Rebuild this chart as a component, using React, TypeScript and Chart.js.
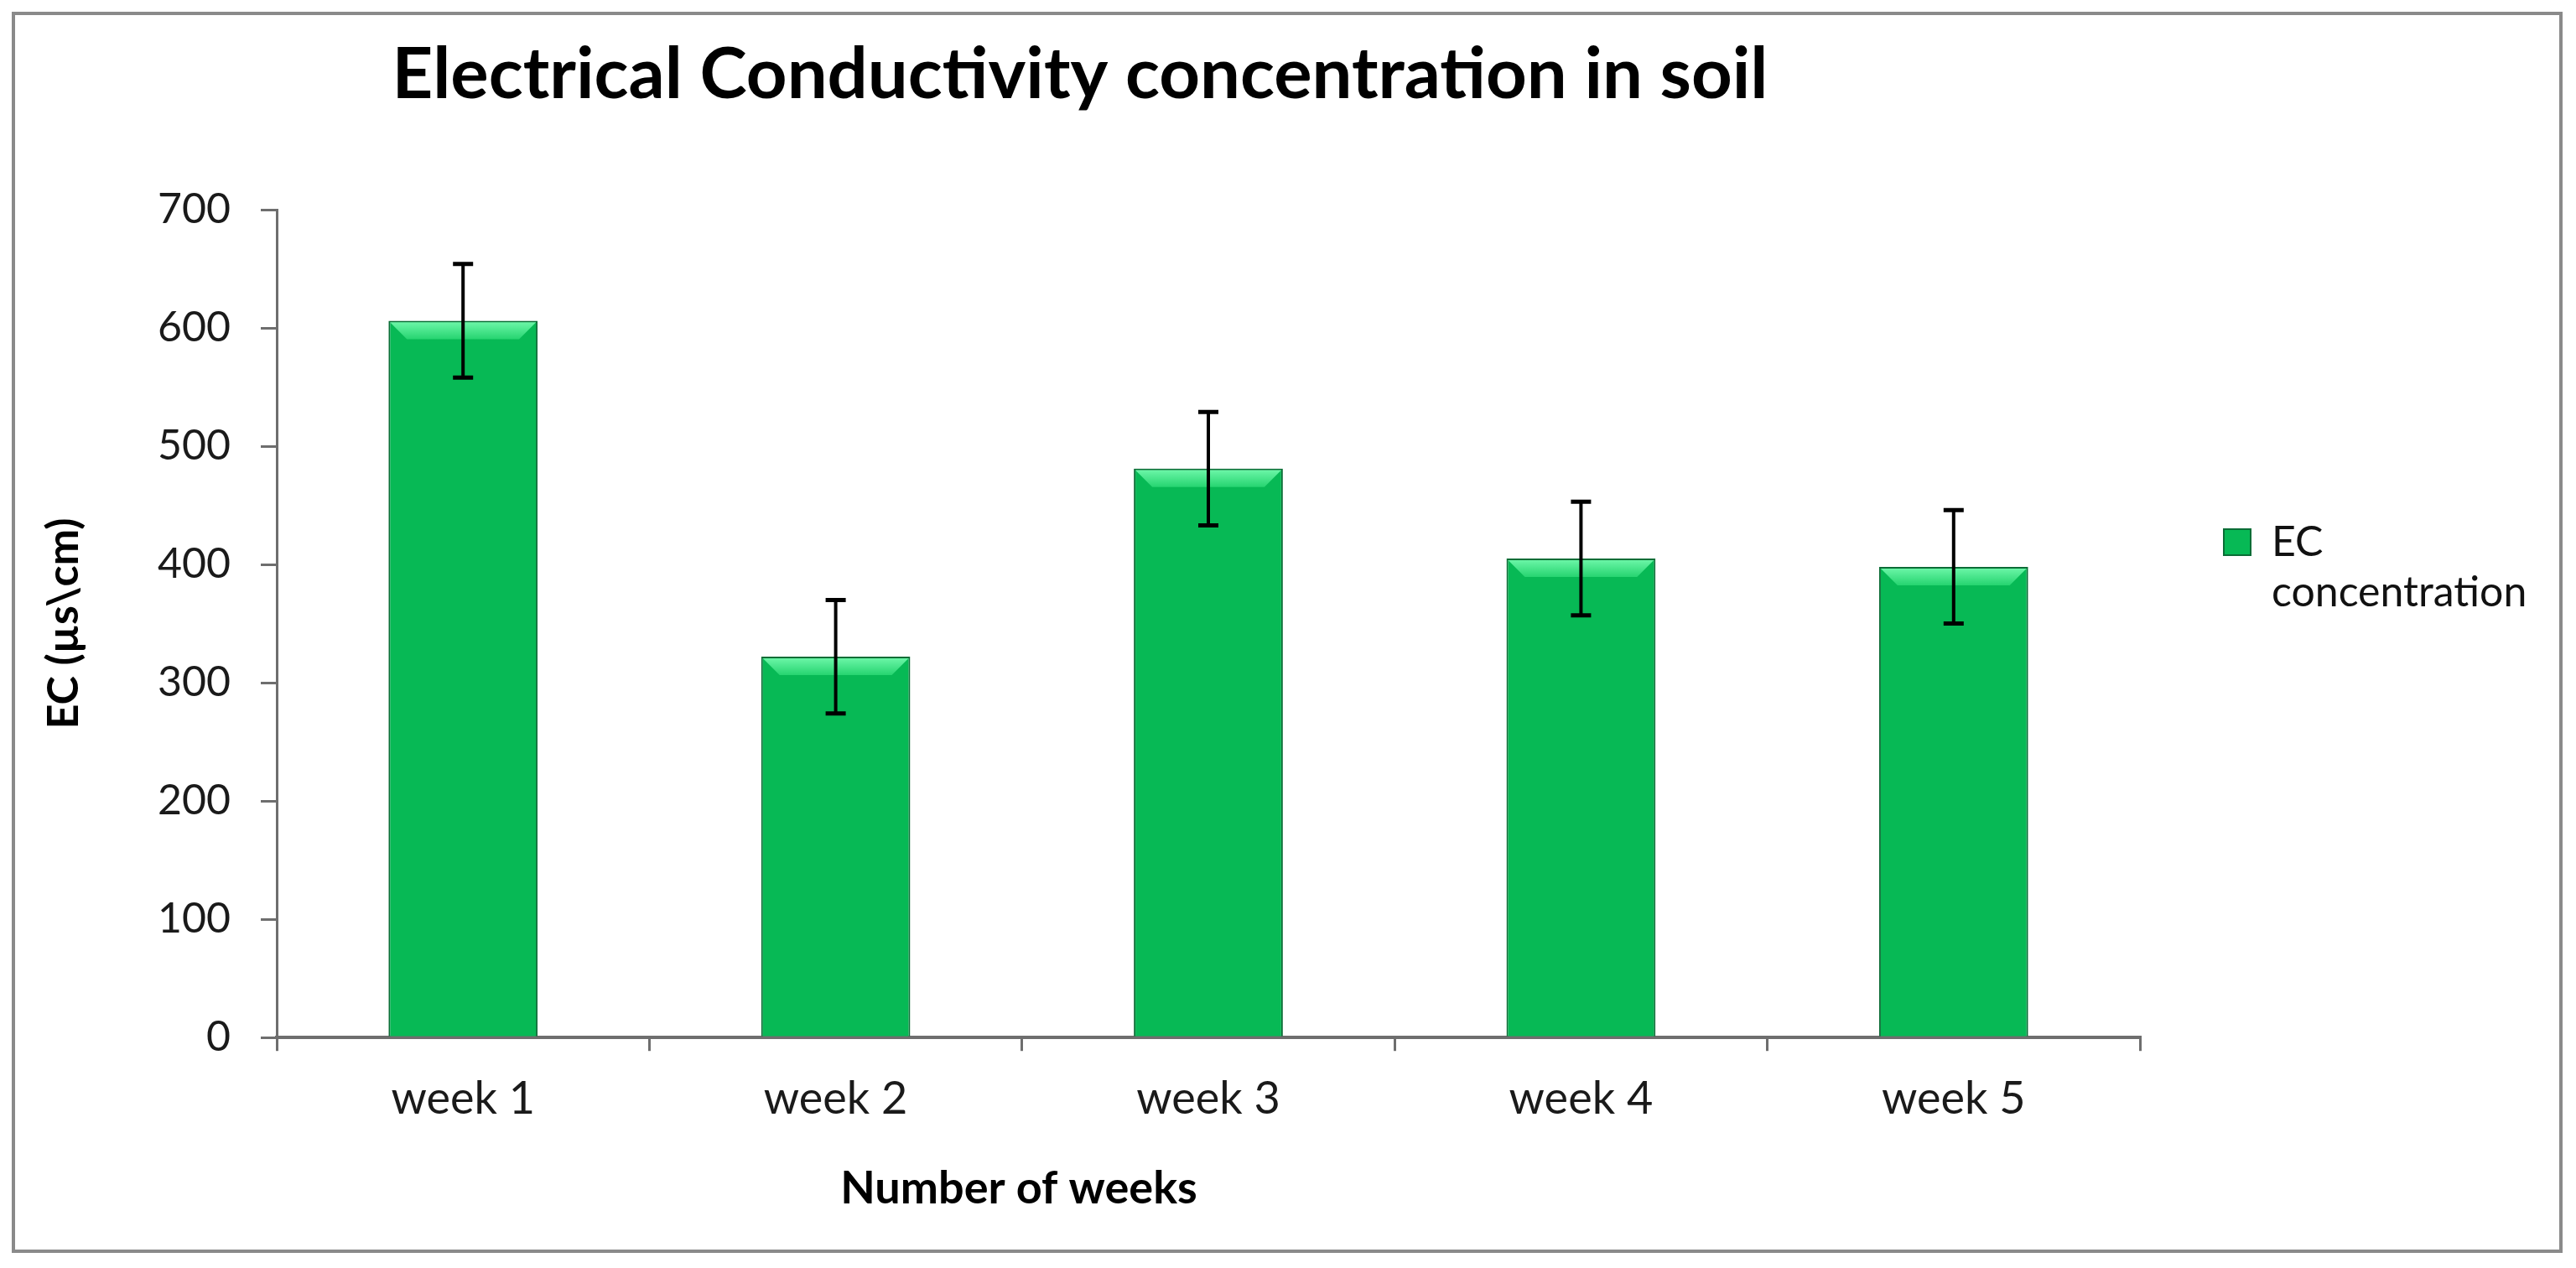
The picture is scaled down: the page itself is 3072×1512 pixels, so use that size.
import React, { useEffect, useRef } from "react";
import { Chart, registerables } from "chart.js";

Chart.register(...registerables);

const categories = ["week 1", "week 2", "week 3", "week 4", "week 5"];
const ecValues = [606, 322, 481, 405, 398];
const ecErrors = [48, 48, 48, 48, 48];
const seriesLabel = "EC concentration";
const legendLines = ["EC", "concentration"];
const chartTitle = "Electrical Conductivity concentration in soil";
const xTitle = "Number of weeks";
const yTitle = "EC (µs\\cm)";
const yMin = 0;
const yMax = 700;
const yStep = 100;

const FONT = "Lato, 'Open Sans', sans-serif";
const AXIS_GREY = "#6e6e6e";
const LEGEND_FONT_SIZE = 50;
const LEGEND_BOX = 32;
const LEGEND_PAD = 100;
const PLOT_RIGHT = 2552;

const bevelPlugin = {
  id: "bevel",
  afterDatasetsDraw(chart: any) {
    const ctx = chart.ctx;
    const meta = chart.getDatasetMeta(0);
    meta.data.forEach((bar: any) => {
      const { x, y, width } = bar.getProps(["x", "y", "width"], true);
      const l = x - width / 2 + 2;
      const r = x + width / 2 - 2;
      const h = 20;
      const t = y + 2;
      ctx.save();
      const g = ctx.createLinearGradient(0, t, 0, t + h);
      g.addColorStop(0, "#6af5a6");
      g.addColorStop(1, "#26d470");
      ctx.fillStyle = g;
      ctx.beginPath();
      ctx.moveTo(l, t);
      ctx.lineTo(r, t);
      ctx.lineTo(r - h, t + h);
      ctx.lineTo(l + h, t + h);
      ctx.closePath();
      ctx.fill();
      ctx.restore();
    });
  },
};

const errorBarPlugin = {
  id: "errorBars",
  afterDatasetsDraw(chart: any) {
    const ctx = chart.ctx;
    const meta = chart.getDatasetMeta(0);
    const yScale = chart.scales.y;
    meta.data.forEach((bar: any, i: number) => {
      const x = bar.x;
      const top = yScale.getPixelForValue(ecValues[i] + ecErrors[i]);
      const bot = yScale.getPixelForValue(ecValues[i] - ecErrors[i]);
      ctx.save();
      ctx.strokeStyle = "#000";
      ctx.lineWidth = 4;
      ctx.beginPath();
      ctx.moveTo(x, top);
      ctx.lineTo(x, bot);
      ctx.stroke();
      ctx.lineWidth = 5;
      ctx.beginPath();
      ctx.moveTo(x - 12, top);
      ctx.lineTo(x + 12, top);
      ctx.moveTo(x - 12, bot);
      ctx.lineTo(x + 12, bot);
      ctx.stroke();
      ctx.restore();
    });
  },
};

const textPlugin = {
  id: "freeTexts",
  afterDraw(chart: any) {
    const ctx = chart.ctx;
    ctx.save();
    ctx.fillStyle = "#000";
    ctx.textAlign = "center";
    ctx.textBaseline = "alphabetic";
    ctx.font = `bold 85px ${FONT}`;
    ctx.fillText(chartTitle, 1288, 117);
    ctx.font = `bold 54px ${FONT}`;
    ctx.fillText(xTitle, 1215, 1435);
    ctx.restore();
  },
};

export default function App() {
  const canvasRef = useRef<HTMLCanvasElement | null>(null);

  useEffect(() => {
    document.body.style.margin = "0";
    const canvas = canvasRef.current;
    if (!canvas) return;
    const mctx = canvas.getContext("2d")!;
    mctx.font = `normal ${LEGEND_FONT_SIZE}px ${FONT}`;
    const longest = legendLines.reduce((a, b) => (a.length > b.length ? a : b));
    const textW = mctx.measureText(longest).width;
    const legendW = LEGEND_PAD + LEGEND_BOX + LEGEND_FONT_SIZE / 2 + textW + 10;
    const padRight = Math.max(0, 3072 - PLOT_RIGHT - legendW);

    const chart = new Chart(canvas, {
      type: "bar",
      data: {
        labels: categories,
        datasets: [
          {
            label: seriesLabel,
            data: ecValues,
            backgroundColor: "#07b955",
            borderColor: "#0b6d36",
            borderWidth: 2,
            barPercentage: 0.4,
            categoryPercentage: 1.0,
          },
        ],
      },
      options: {
        responsive: false,
        animation: false,
        devicePixelRatio: 1,
        layout: { padding: { left: 30, right: padRight, top: 250, bottom: 144 } },
        plugins: {
          title: { display: false },
          tooltip: { enabled: false },
          legend: {
            display: true,
            position: "right",
            align: "start",
            fullSize: false,
            title: {
              display: true,
              text: " ",
              font: { size: 12, lineHeight: 1.2 },
              padding: { top: 0, bottom: 257 },
            },
            labels: {
              boxWidth: LEGEND_BOX,
              boxHeight: 31,
              padding: LEGEND_PAD,
              color: "#111",
              font: { family: FONT, size: LEGEND_FONT_SIZE, lineHeight: 1.2 },
              generateLabels(chart: any) {
                const items = Chart.defaults.plugins.legend.labels.generateLabels(chart);
                return items.map((it: any) => ({ ...it, text: legendLines }));
              },
            },
          },
        },
        scales: {
          x: {
            grid: {
              display: true,
              drawOnChartArea: false,
              drawTicks: true,
              tickLength: 16,
              color: AXIS_GREY,
              lineWidth: 3,
              offset: true,
            },
            border: { display: true, color: AXIS_GREY, width: 4 },
            ticks: {
              color: "#1a1a1a",
              padding: 25,
              font: { family: FONT, size: 54, lineHeight: 1.2 },
            },
          },
          y: {
            min: yMin,
            max: yMax,
            afterFit(scale: any) {
              scale.width = 300;
            },
            grid: {
              display: true,
              drawOnChartArea: false,
              drawTicks: true,
              tickLength: 19,
              color: AXIS_GREY,
              lineWidth: 3,
            },
            border: { display: true, color: AXIS_GREY, width: 3 },
            ticks: {
              stepSize: yStep,
              color: "#1a1a1a",
              padding: 36,
              font: { family: FONT, size: 50, lineHeight: 1.2 },
            },
            title: {
              display: true,
              text: yTitle,
              color: "#000",
              font: { family: FONT, size: 52, weight: "bold", lineHeight: 1.2 },
              padding: { top: 15, bottom: 0 },
            },
          },
        },
      },
      plugins: [bevelPlugin, errorBarPlugin, textPlugin],
    } as any);
    return () => chart.destroy();
  }, []);

  return (
    <div style={{ position: "relative", width: 3072, height: 1512, overflow: "hidden", background: "#fff" }}>
      <canvas ref={canvasRef} width={3072} height={1512} style={{ position: "absolute", left: 0, top: 0, width: 3072, height: 1512 }} />
      <div
        style={{
          position: "absolute",
          left: 14,
          top: 14,
          width: 3042,
          height: 1480,
          boxSizing: "border-box",
          border: "4px solid #8a8a8a",
          pointerEvents: "none",
        }}
      />
    </div>
  );
}
